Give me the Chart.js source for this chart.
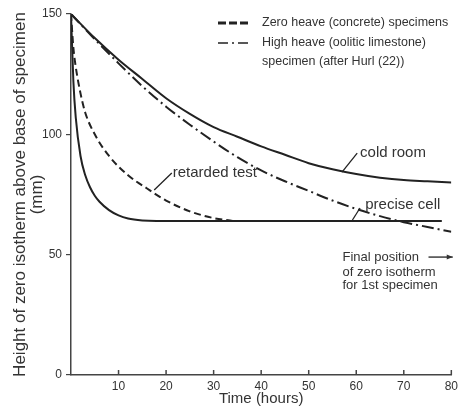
<!DOCTYPE html>
<html lang="en">
<head>
    <meta charset="UTF-8">
    <title>Zero isotherm height against time</title>
    <script src="https://cdn.jsdelivr.net/npm/chart.js"></script>
    <style>
        body {
            margin: 0;
            background: #fff;
        }
    </style>
</head>
<body>
    <canvas id="myChart" width="462" height="415"></canvas>

    <script>
        // first specimen (zero heave, fast freeze)
        const fastHours = [0, 0.5, 1, 2, 3, 4, 5, 6, 8, 10, 12, 15, 18, 78];
        const fastHeight = [150, 122, 107, 91, 83, 78, 74.5, 72, 68.5, 66.3, 65, 64.2, 64, 64];

        // retarded test (zero heave)
        const retardedHours = [0, 0.5, 1, 2, 3, 5, 8, 12, 16, 20, 25, 30, 34];
        const retardedHeight = [150, 136, 128, 117, 109, 100, 91, 83, 77.5, 72.5, 68, 65.2, 64];

        // cold room (zero heave)
        const coldHours = [0, 5, 10, 15, 20, 25, 30, 35, 40, 45, 50, 55, 60, 65, 70, 75, 80];
        const coldHeight = [150, 140, 131, 123, 115, 108.5, 103, 99, 95, 91.5, 88, 85.5, 83.5, 82, 81, 80.5, 80];

        // precise cell (high heave, after Hurl)
        const preciseHours = [0, 5, 10, 15, 20, 25, 30, 35, 40, 45, 50, 55, 60, 65, 70, 75, 80];
        const preciseHeight = [150, 139.5, 129.5, 120, 111.5, 104, 97, 90.5, 85, 80.5, 76.5, 72.5, 69, 66, 63.5, 61.5, 59.5];

        const xTicks = [10, 20, 30, 40, 50, 60, 70, 80];

        const ink = '#222';
        const textColor = '#333';
        const font = 'Liberation Sans, Arial, sans-serif';

        function toPoints(xs, ys) {
            return xs.map((x, i) => ({ x: x, y: ys[i] }));
        }

        function lineSet(label, xs, ys, dash) {
            return {
                label: label,
                data: toPoints(xs, ys),
                borderColor: ink,
                borderWidth: 2,
                borderDash: dash,
                pointRadius: 0,
                fill: false,
                cubicInterpolationMode: 'monotone'
            };
        }

        // notes, legend and inward x ticks
        const notesPlugin = {
            id: 'notes',
            afterDraw(chart) {
                const ctx = chart.ctx;
                const xs = chart.scales.x;
                const ys = chart.scales.y;
                const px = v => xs.getPixelForValue(v);
                const py = v => ys.getPixelForValue(v);
                ctx.save();

                // inward ticks on time axis
                ctx.strokeStyle = '#444';
                ctx.lineWidth = 1.5;
                xTicks.forEach(t => {
                    ctx.beginPath();
                    ctx.moveTo(px(t), py(0));
                    ctx.lineTo(px(t), py(0) - 5);
                    ctx.stroke();
                });

                // pointers
                ctx.strokeStyle = ink;
                ctx.lineWidth = 1.3;
                const pointer = (x1, y1, x2, y2) => {
                    ctx.beginPath();
                    ctx.moveTo(px(x1), py(y1));
                    ctx.lineTo(px(x2), py(y2));
                    ctx.stroke();
                };
                pointer(57, 84.3, 60.2, 92.2);
                pointer(59.2, 64.4, 60.8, 69.4);
                pointer(17.5, 76.9, 21.2, 83.9);

                ctx.fillStyle = textColor;
                ctx.textBaseline = 'middle';
                ctx.textAlign = 'left';
                ctx.font = '15px ' + font;
                ctx.fillText('cold room', px(60.8), py(92.2));
                ctx.fillText('precise cell', px(61.9), py(70.6));
                ctx.fillText('retarded test', px(21.4), py(83.9));

                ctx.font = '13px ' + font;
                ctx.fillText('Final position', px(57.1), py(49));
                ctx.fillText('of zero isotherm', px(57.1), py(42.8));
                ctx.fillText('for 1st specimen', px(57.1), py(37.3));

                // arrow after "Final position"
                ctx.beginPath();
                ctx.moveTo(px(75.2), py(49));
                ctx.lineTo(px(80.3), py(49));
                ctx.stroke();
                ctx.beginPath();
                ctx.moveTo(px(80.3), py(49));
                ctx.lineTo(px(80.3) - 6, py(49) - 2.5);
                ctx.lineTo(px(80.3) - 6, py(49) + 2.5);
                ctx.closePath();
                ctx.fill();

                // legend
                ctx.lineWidth = 3;
                ctx.setLineDash([8, 3]);
                ctx.beginPath();
                ctx.moveTo(218, 23);
                ctx.lineTo(249, 23);
                ctx.stroke();
                ctx.lineWidth = 1.5;
                ctx.setLineDash([10, 4, 2, 4]);
                ctx.beginPath();
                ctx.moveTo(218, 43);
                ctx.lineTo(249, 43);
                ctx.stroke();
                ctx.setLineDash([]);

                ctx.font = '12.5px ' + font;
                ctx.fillText('Zero heave (concrete) specimens', 262, 23);
                ctx.fillText('High heave (oolitic limestone)', 262, 43);
                ctx.fillText('specimen (after Hurl (22))', 262, 62);

                ctx.restore();
            }
        };

        const ctx = document.getElementById('myChart').getContext('2d');
        const myChart = new Chart(ctx, {
            type: 'line',
            data: {
                datasets: [
                    lineSet('1st specimen', fastHours, fastHeight, []),
                    lineSet('retarded test', retardedHours, retardedHeight, [7, 4]),
                    lineSet('cold room', coldHours, coldHeight, []),
                    lineSet('precise cell', preciseHours, preciseHeight, [12, 4, 2, 4])
                ]
            },
            options: {
                responsive: false,
                animation: false,
                layout: { padding: { left: 0, right: 7, top: 14, bottom: 0 } },
                plugins: {
                    legend: { display: false },
                    tooltip: { enabled: false }
                },
                scales: {
                    x: {
                        type: 'linear',
                        min: 0,
                        max: 80,
                        afterFit: s => { s.height = 40; },
                        afterBuildTicks: s => { s.ticks = [0].concat(xTicks).map(v => ({ value: v })); },
                        grid: { display: false, drawTicks: false },
                        border: { display: true, color: '#444', width: 1.5 },
                        ticks: {
                            padding: 4,
                            color: textColor,
                            font: { family: font, size: 12 },
                            callback: v => (v === 0 ? '' : v)
                        },
                        title: {
                            display: true,
                            text: 'Time (hours)',
                            color: textColor,
                            font: { family: font, size: 15 },
                            padding: { top: 0, bottom: 7 }
                        }
                    },
                    y: {
                        min: 0,
                        max: 150,
                        afterFit: s => { s.width = 71; },
                        grid: { display: true, drawOnChartArea: false, drawTicks: true, tickLength: 5, color: '#444', lineWidth: 1.2 },
                        border: { display: true, color: '#444', width: 1.5 },
                        ticks: {
                            stepSize: 50,
                            padding: 4,
                            color: textColor,
                            font: { family: font, size: 12 }
                        },
                        title: {
                            display: true,
                            text: ['Height of zero isotherm above base of specimen', '(mm)'],
                            color: textColor,
                            font: { family: font, size: 17, lineHeight: 1.0 },
                            padding: { top: 12, bottom: 0 }
                        }
                    }
                }
            },
            plugins: [notesPlugin]
        });
    </script>
</body>
</html>
